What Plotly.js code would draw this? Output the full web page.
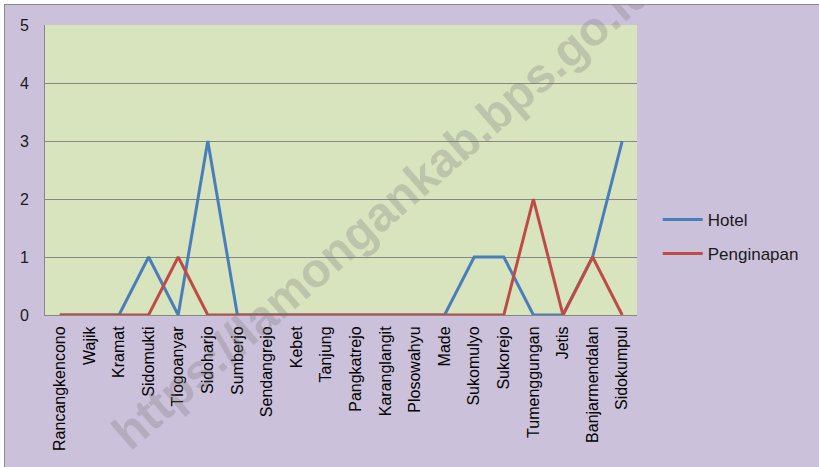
<!DOCTYPE html>
<html>
<head>
<meta charset="utf-8">
<script src="https://cdn.plot.ly/plotly-3.0.1.min.js"></script>
<style>
html,body{margin:0;padding:0;background:#ffffff;width:819px;height:467px;overflow:hidden;}
#frame{position:absolute;left:4px;top:4px;width:815px;height:463px;border-left:1px solid #8a8a8a;border-top:1px solid #8a8a8a;background:#ccc1da;}
#chart{width:814px;height:462px;}
</style>
</head>
<body>
<div id="frame"><div id="chart"></div></div>
<script>
const categories = ["Rancangkencono","Wajik","Kramat","Sidomukti","Tlogoanyar","Sidoharjo","Sumberjo","Sendangrejo","Kebet","Tanjung","Pangkatrejo","Karanglangit","Plosowahyu","Made","Sukomulyo","Sukorejo","Tumenggungan","Jetis","Banjarmendalan","Sidokumpul"];
const hotel      = [0,0,0,1,0,3,0,0,0,0,0,0,0,0,1,1,0,0,1,3];
const penginapan = [0,0,0,0,1,0,0,0,0,0,0,0,0,0,0,0,2,0,1,0];
const yTicks = [0,1,2,3,4,5];

const font = "Liberation Sans, Arial, sans-serif";
const traces = [
  {x: categories, y: hotel, name: "Hotel", type: "scatter", mode: "lines", legendgroup: "a",
   line: {color: "#4a7ebb", width: 3}},
  {x: categories, y: penginapan, name: "Penginapan", type: "scatter", mode: "lines", legendgroup: "b",
   line: {color: "#be4b48", width: 3}}
];
const layout = {
  width: 814, height: 462,
  margin: {l: 40, r: 182, t: 20, b: 152, pad: 0},
  paper_bgcolor: "#ccc1da",
  plot_bgcolor: "#d7e4bd",
  font: {family: font, size: 16, color: "#000000"},
  showlegend: true,
  legend: {x: 1.035, y: 0.39, xanchor: "left", yanchor: "top", bgcolor: "rgba(0,0,0,0)",
           traceorder: "grouped", tracegroupgap: 9,
           font: {family: font, size: 17, color: "#1a1a1a"}, itemwidth: 40},
  xaxis: {type: "category", categoryorder: "array", categoryarray: categories,
          tickangle: -90, showgrid: false, showline: true, linecolor: "#868686", linewidth: 1,
          ticks: "outside", ticklen: 4, tickcolor: "rgba(0,0,0,0)", zeroline: false,
          tickfont: {family: font, size: 16, color: "#000"},
          range: [-0.5, categories.length - 0.5], fixedrange: true},
  yaxis: {range: [0, 5], tickvals: yTicks, ticktext: yTicks.map(String),
          showgrid: true, gridcolor: "#868686", gridwidth: 1, zeroline: false,
          showline: true, linecolor: "#868686", linewidth: 1, mirror: false,
          ticks: "outside", ticklen: 12, tickcolor: "rgba(0,0,0,0)",
          tickfont: {family: font, size: 16, color: "#1a1a1a"}, fixedrange: true},
  annotations: [{
    text: "<b>https://lamongankab.bps.go.id</b>", xref: "paper", yref: "paper",
    x: 0.569, y: 0.358, xanchor: "center", yanchor: "middle", showarrow: false, textangle: -41,
    font: {family: font, size: 48, color: "rgba(120,120,120,0.28)"}
  }]
};
Plotly.newPlot("chart", traces, layout, {displayModeBar: false, staticPlot: true});
</script>
</body>
</html>
